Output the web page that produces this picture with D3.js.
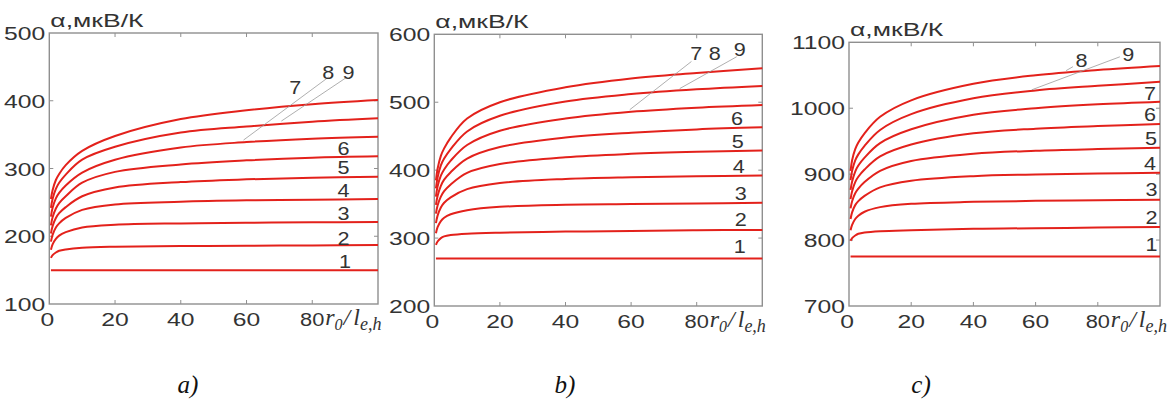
<!DOCTYPE html>
<meta charset="utf-8">
<style>
	body { margin: 0; background: #fff; }
	svg { display: block; }
	.frame { fill: none; stroke: #8f8f8f; stroke-width: 1.4; }
	.tk { stroke: #8f8f8f; stroke-width: 1; }
	.num { font-family: "Liberation Sans", Arial, sans-serif; font-size: 19px; fill: #333; }
	.curve { fill: none; stroke: #e3211b; stroke-width: 2; }
	.leader { stroke: #9a9a9a; stroke-width: 0.8; }
	.xlab { font-family: "Liberation Serif", "Times New Roman", serif; font-style: italic; font-size: 24px; fill: #333; }
	.cap { font-family: "Liberation Serif", "Times New Roman", serif; font-style: italic; font-size: 25px; fill: #111; }
</style>
<script src="https://cdn.jsdelivr.net/npm/d3@7"></script>
<body>
<svg id="chart" width="1175" height="405"></svg>
<script>
// x grid (r0 / l_e,h)
const xs = [0.5, 1, 2, 3, 5, 10, 20, 40, 60, 80, 100];
const xTicks = [0, 20, 40, 60, 80];

// panel a) alpha, uV/K
const yTicksA = [100, 200, 300, 400, 500];
const curvesA = [
	[150, 150, 150, 150, 150, 150, 150, 150, 150, 150, 150],
	[168, 172, 176, 178.5, 180.5, 183, 184.5, 185.5, 186, 186.5, 187],
	[180, 188, 196, 201, 206, 213, 217, 219, 220, 220.5, 221],
	[192, 202, 213, 219, 227, 239, 247, 251, 253, 254, 255],
	[204, 215, 227, 234, 243, 259, 272, 280, 284, 286.5, 288],
	[216, 228, 241, 249, 259, 279, 295, 306, 312, 316, 318],
	[229, 242, 256, 264, 275, 294, 313, 331, 339, 344, 347],
	[242, 255, 270, 279, 291, 313, 332, 353, 362, 369, 374],
	[255, 268, 283, 292, 305, 326, 348, 373, 386, 395, 401]
];
const labelsA = [["1", 90, 162], ["2", 89.5, 197], ["3", 89.5, 234], ["4", 89.5, 267], ["5", 89.5, 301],
	["6", 89.5, 329], ["7", 74.8, 419], ["8", 84.9, 442], ["9", 91, 442]];
const leadersA = [[85, 435, 59.1, 342], [90.6, 435, 70.6, 370]];

// panel b)
const yTicksB = [200, 300, 400, 500, 600];
const curvesB = [
	[270, 270, 270, 270, 270, 270, 270, 270, 270, 270, 270],
	[290, 295, 300, 302.5, 304.5, 306.5, 308, 309.5, 310.5, 311.5, 312],
	[307, 316, 325, 330, 335, 341, 346, 349, 350, 351, 352],
	[322, 333, 345, 352, 360, 372, 381, 387, 389.5, 391, 392],
	[336, 348, 361, 369, 379, 396, 409, 419, 424, 427, 429],
	[349, 362, 377, 386, 397, 417, 434, 448, 455, 460, 463],
	[361, 376, 392, 401, 414, 437, 458, 476, 486, 492, 496],
	[373, 389, 407, 417, 431, 457, 480, 501, 512, 519, 524],
	[385, 402, 421, 432, 448, 476, 500, 522, 535, 543, 550]
];
const labelsB = [["1", 93.1, 287], ["2", 93.4, 328], ["3", 93.4, 366], ["4", 92.8, 405], ["5", 92.5, 442],
	["6", 92.3, 476], ["7", 79.9, 572], ["8", 85.5, 572], ["9", 93.1, 577]];
const leadersB = [[78.4, 560, 59.6, 489], [92.2, 567, 74.8, 520]];

// panel c)
const yTicksC = [700, 800, 900, 1000, 1100];
const curvesC = [
	[775, 775, 775, 775, 775, 775, 775, 775, 775, 775, 775],
	[799, 803, 807, 809.5, 811.5, 813.5, 815, 817, 818, 819, 820],
	[815, 823, 832, 837, 843, 850, 855, 858, 859.5, 860.5, 861],
	[832, 842, 853, 859, 867, 880, 890, 897, 899.5, 901, 902],
	[848, 859, 871, 878, 888, 905, 920, 931, 935.5, 938, 940],
	[862, 874, 888, 896, 907, 927, 945, 962, 969, 973, 976],
	[876, 889, 904, 913, 925, 947, 968, 990, 1000, 1006, 1010],
	[891, 905, 921, 930, 943, 967, 991, 1015, 1027, 1034, 1040],
	[905, 921, 938, 948, 962, 987, 1012, 1037, 1050, 1058, 1064]
];
const labelsC = [["1", 97.3, 793], ["2", 97.3, 835], ["3", 97.3, 876], ["4", 96.8, 916], ["5", 97.1, 954],
	["6", 96.8, 990], ["7", 96.8, 1023], ["8", 74.8, 1073], ["9", 89.8, 1081]];
const leadersC = [[87.1, 1078, 58.8, 1028], [72, 1063, 69.8, 1057]];

const captions = ["a)", "b)", "c)"];

// layout of the three frames
const panels = [
	{ left: 49.3, right: 378, top: 33, bottom: 304, yTicks: yTicksA, curves: curvesA, labels: labelsA, leaders: leadersA, cap: 188 },
	{ left: 434.3, right: 762.3, top: 34.3, bottom: 306, yTicks: yTicksB, curves: curvesB, labels: labelsB, leaders: leadersB, cap: 565 },
	{ left: 849, right: 1160, top: 42.3, bottom: 306, yTicks: yTicksC, curves: curvesC, labels: labelsC, leaders: leadersC, cap: 921 }
];

const svg = d3.select("#chart");

function stretchText(g, x, y, txt, anchor, sx) {
	return g.append("text")
		.attr("class", "num")
		.attr("text-anchor", anchor)
		.attr("transform", `translate(${x},${y}) scale(${sx || 1.3},1)`)
		.text(txt);
}

panels.forEach((p, pi) => {
	let g = svg.append("g");
	let x = d3.scaleLinear().domain([0, 100]).range([p.left, p.right]);
	let y = d3.scaleLinear().domain(d3.extent(p.yTicks)).range([p.bottom, p.top]);

	// inner ticks on all four sides
	xTicks.slice(1).forEach(t => {
		g.append("line").attr("class", "tk").attr("x1", x(t)).attr("x2", x(t)).attr("y1", p.bottom).attr("y2", p.bottom - 4);
		g.append("line").attr("class", "tk").attr("x1", x(t)).attr("x2", x(t)).attr("y1", p.top).attr("y2", p.top + 4);
	});
	p.yTicks.slice(1, -1).forEach(t => {
		g.append("line").attr("class", "tk").attr("x1", p.left).attr("x2", p.left + 4).attr("y1", y(t)).attr("y2", y(t));
		g.append("line").attr("class", "tk").attr("x1", p.right).attr("x2", p.right - 4).attr("y1", y(t)).attr("y2", y(t));
	});

	g.append("rect").attr("class", "frame")
		.attr("x", p.left).attr("y", p.top)
		.attr("width", p.right - p.left).attr("height", p.bottom - p.top);

	// tick labels
	p.yTicks.forEach(t => stretchText(g, p.left - 4, y(t) + 7, t, "end"));
	xTicks.forEach(t => stretchText(g, x(t) - (t === 0 ? 2 : 0), p.bottom + 22, t, "middle", t === 80 ? 1.15 : 1.3));

	// axis titles
	stretchText(g, p.left + 1, p.top - 6, "α,мкВ/К", "start", 1.4);

	let xl = g.append("text").attr("class", "xlab")
		.attr("x", x(80) + 13).attr("y", p.bottom + 21);
	xl.append("tspan").text("r");
	xl.append("tspan").attr("dy", 5).style("font-size", "16px").text("0");
	xl.append("tspan").attr("dy", -5).attr("dx", 1).text("/");
	xl.append("tspan").attr("dx", 3).text("l");
	xl.append("tspan").attr("dy", 5).style("font-size", "18px").text("e,h");

	// curves
	let line = d3.line()
		.x((d, i) => x(xs[i]))
		.y(d => y(d))
		.curve(d3.curveCatmullRom.alpha(0.5));
	g.selectAll("path.curve")
		.data(p.curves)
		.join("path")
		.attr("class", "curve")
		.attr("d", line);

	// leader lines and curve numbers
	p.leaders.forEach(l => {
		g.append("line").attr("class", "leader")
			.attr("x1", x(l[0])).attr("y1", y(l[1]))
			.attr("x2", x(l[2])).attr("y2", y(l[3]));
	});
	p.labels.forEach(l => {
		g.append("text").attr("class", "num")
			.attr("text-anchor", "middle")
			.attr("transform", `translate(${x(l[1])},${y(l[2]) + 6.5}) scale(1.2,1)`)
			.style("font-size", "18px")
			.text(l[0]);
	});

	svg.append("text").attr("class", "cap")
		.attr("x", p.cap).attr("y", 393)
		.attr("text-anchor", "middle")
		.text(captions[pi]);
});
</script>
</body>
